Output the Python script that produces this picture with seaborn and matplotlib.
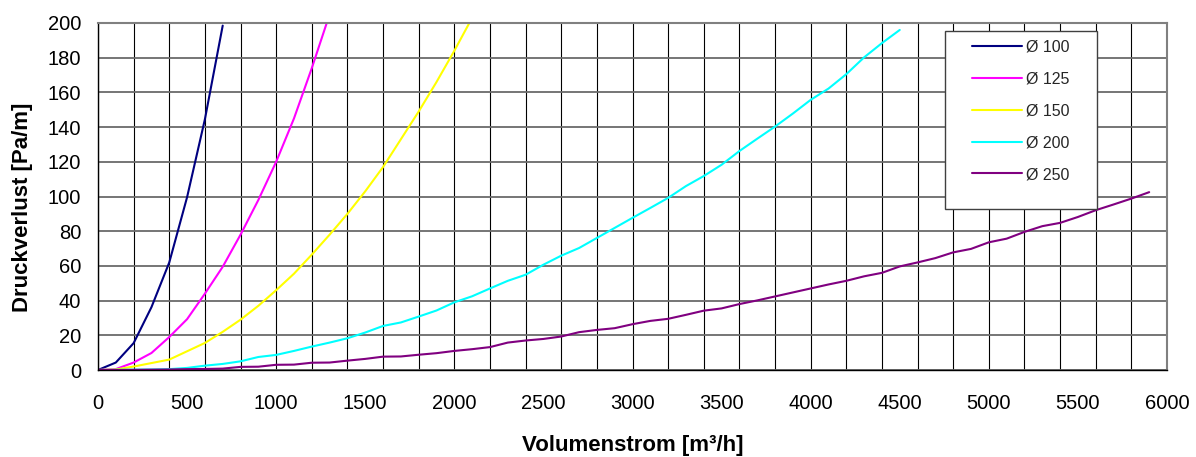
import matplotlib
matplotlib.use("Agg")
import matplotlib.pyplot as plt
import numpy as np
import pandas as pd
import seaborn as sns
from matplotlib.ticker import MultipleLocator, FuncFormatter
from matplotlib.patches import Rectangle

# ---- data ----
volumenstrom = list(range(0, 6000, 100))  # m³/h, one point every 100

d100 = [0, 4.3, 15.5, 36.2, 62, 99.6, 144.5, 198.5]
d125 = [0, 0.5, 4.3, 9.8, 19, 29.3, 44, 59.5, 78, 98, 120, 145, 174, 205]
d150 = [0, 0.3, 2, 4, 6, 10.8, 15.6, 22, 29, 37, 46, 55.5, 66.5, 78, 90,
        103, 117, 133, 149, 166, 184, 203]
d200 = [0, 0.1, 0.2, 0.3, 0.5, 1.2, 2.5, 3.5, 5, 7.5, 8.7, 11, 13.5, 15.8,
        18.3, 21.6, 25.4, 27.4, 30.8, 34.3, 39, 42.5, 47, 51.4, 54.9, 60.7,
        65.9, 70.3, 76.1, 81.9, 87.7, 93.4, 99.2, 106, 111.8, 118.3, 126.2,
        133.3, 140.3, 147.8, 155.7, 162.2, 170.5, 180.2, 188.4, 196]
d250 = [0, 0, 0.1, 0.2, 0.3, 0.5, 0.6, 0.8, 1.8, 1.9, 3, 3.1, 4.2, 4.3, 5.4,
        6.4, 7.7, 7.8, 8.8, 9.7, 11, 12, 13.2, 15.8, 17, 17.9, 19.3, 21.8,
        23.1, 24.1, 26.4, 28.3, 29.5, 31.8, 34.2, 35.5, 38, 40.1, 42.4, 44.7,
        47, 49.3, 51.4, 54, 56, 59.7, 62, 64.5, 67.8, 69.8, 73.6, 75.7, 79.6,
        82.9, 84.8, 88.2, 92.1, 95.4, 98.8, 102.5]

series_labels = ["Ø 100", "Ø 125", "Ø 150", "Ø 200", "Ø 250"]
series_values = [d100, d125, d150, d200, d250]
colors = ["#000080", "#FF00FF", "#FFFF00", "#00FFFF", "#800080"]

rows = []
for lab, vals in zip(series_labels, series_values):
    for x, y in zip(volumenstrom, vals):
        rows.append({"Volumenstrom": x, "Druckverlust": y, "Serie": lab})
df = pd.DataFrame(rows)

# ---- style ----
sns.set_theme(style="white")
plt.rcParams["font.family"] = ["Liberation Sans", "DejaVu Sans"]

W, H = 1196, 457
fig = plt.figure(figsize=(W / 100, H / 100), dpi=100)
fig.patch.set_facecolor("white")
ax = fig.add_axes([98 / W, 1 - 370 / H, (1167 - 98) / W, (370 - 23) / H])

sns.lineplot(data=df, x="Volumenstrom", y="Druckverlust", hue="Serie",
             hue_order=series_labels, palette=colors, linewidth=1.5,
             estimator=None, sort=False, ax=ax)

ax.set_xlim(0, 6000)
ax.set_ylim(0, 200)

ax.xaxis.remove_overlapping_locs = False
ax.xaxis.set_major_locator(MultipleLocator(100))
ax.xaxis.set_major_formatter(FuncFormatter(
    lambda v, p: f"{int(round(v))}" if int(round(v)) % 500 == 0 else ""))
ax.xaxis.set_minor_locator(MultipleLocator(200))
ax.yaxis.set_major_locator(MultipleLocator(20))

ax.tick_params(axis="x", which="minor", length=0)
ax.tick_params(axis="both", which="major", direction="out", length=3.6,
               width=0.8, color="black", labelsize=14.5, labelcolor="black")
ax.tick_params(axis="x", which="major", pad=14)
ax.tick_params(axis="y", which="major", pad=8.5)

ax.grid(False)
ax.grid(which="minor", axis="x", color="black", linewidth=0.8)
ax.grid(which="major", axis="y", color="#6a6a6a", linewidth=1.3)
ax.set_axisbelow(True)

for side in ["left", "bottom"]:
    ax.spines[side].set_color("black")
    ax.spines[side].set_linewidth(1.0)
for side in ["top", "right"]:
    ax.spines[side].set_color("#808080")
    ax.spines[side].set_linewidth(1.5)
    ax.spines[side].set_visible(True)

ax.set_xlabel("Volumenstrom [m³/h]", fontsize=16, fontweight="bold",
              color="black")
ax.xaxis.set_label_coords(0.5, -0.186)
ax.set_ylabel("Druckverlust [Pa/m]", fontsize=16, fontweight="bold",
              color="black")
ax.yaxis.set_label_coords(-0.061, 0.47)

# ---- legend ----
handles, labels = ax.get_legend_handles_labels()
ax.get_legend().remove()
frame = Rectangle((945 / W, 1 - 209 / H), 152 / W, 178 / H,
                  transform=fig.transFigure, facecolor="white",
                  edgecolor="#404040", linewidth=1.0, zorder=4)
fig.patches.append(frame)
leg = fig.legend(handles, labels, loc="upper left",
                 bbox_to_anchor=(972 / W, 1 - 40 / H),
                 bbox_transform=fig.transFigure, frameon=False,
                 fontsize=11.5, handlelength=3.15, handletextpad=0.25,
                 labelspacing=1.05, borderpad=0, borderaxespad=0)
leg.set_zorder(5)
for line in leg.get_lines():
    line.set_linewidth(1.5)

fig.savefig("out.png", dpi=100)
